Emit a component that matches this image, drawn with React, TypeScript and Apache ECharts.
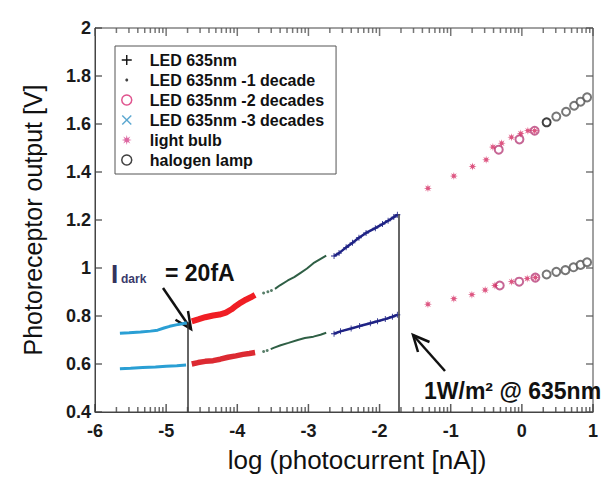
import React, { useEffect, useRef } from "react";
import * as echarts from "echarts";

// ---------- data ----------
// LED 635nm (navy "+")
const ledUpper = [
  [-2.64, 1.05], [-2.57, 1.062], [-2.47, 1.086], [-2.38, 1.105], [-2.29, 1.126],
  [-2.19, 1.146], [-2.06, 1.166], [-1.96, 1.183], [-1.88, 1.197], [-1.8, 1.212], [-1.75, 1.222],
];
const ledLower = [
  [-2.64, 0.726], [-2.55, 0.736], [-2.4, 0.748], [-2.28, 0.758], [-2.13, 0.77],
  [-2.03, 0.778], [-1.92, 0.787], [-1.82, 0.797], [-1.75, 0.805],
];
// LED 635nm -1 decade (green dots)
const dec1UpperSparse = [[-3.63, 0.896], [-3.57, 0.901], [-3.52, 0.906]];
const dec1Upper = [
  [-3.47, 0.913], [-3.4, 0.928], [-3.29, 0.948], [-3.2, 0.962], [-3.11, 0.98],
  [-3.02, 0.998], [-2.93, 1.02], [-2.84, 1.036], [-2.75, 1.052],
];
const dec1LowerSparse = [[-3.63, 0.652], [-3.58, 0.656]];
const dec1Lower = [
  [-3.53, 0.662], [-3.48, 0.668], [-3.39, 0.678], [-3.28, 0.688], [-3.15, 0.7],
  [-3.05, 0.708], [-2.93, 0.714], [-2.83, 0.722], [-2.75, 0.73],
];
// LED 635nm -2 decades (red circles)
const dec2Upper = [
  [-4.64, 0.778], [-4.55, 0.786], [-4.45, 0.795], [-4.34, 0.802], [-4.25, 0.806],
  [-4.16, 0.814], [-4.08, 0.828], [-4.02, 0.842], [-3.95, 0.856], [-3.88, 0.868],
  [-3.81, 0.878], [-3.75, 0.888],
];
const dec2Lower = [
  [-4.64, 0.6], [-4.55, 0.606], [-4.45, 0.611], [-4.34, 0.614], [-4.24, 0.62],
  [-4.13, 0.628], [-4.02, 0.634], [-3.92, 0.64], [-3.83, 0.644], [-3.75, 0.648],
];
const dec2Right = [
  [-0.325, 1.493], [-0.034, 1.536], [0.18, 1.572],
  [-0.311, 0.927], [-0.038, 0.943], [0.19, 0.96],
];
// LED 635nm -3 decades (cyan)
const dec3Upper = [
  [-5.65, 0.728], [-5.52, 0.73], [-5.36, 0.733], [-5.22, 0.737], [-5.12, 0.741],
  [-5.03, 0.75], [-4.95, 0.757], [-4.86, 0.763], [-4.77, 0.768], [-4.71, 0.772],
];
const dec3Lower = [
  [-5.65, 0.58], [-5.5, 0.582], [-5.33, 0.585], [-5.15, 0.588], [-5.0, 0.591],
  [-4.85, 0.593], [-4.72, 0.596],
];
// light bulb (magenta asterisks)
const bulbUpper = [
  [-1.32, 1.332], [-0.956, 1.383], [-0.693, 1.423], [-0.502, 1.451], [-0.407, 1.504],
  [-0.284, 1.52], [-0.147, 1.545], [-0.015, 1.56], [0.085, 1.572], [0.18, 1.572],
];
const bulbLower = [
  [-1.32, 0.849], [-0.956, 0.872], [-0.702, 0.889], [-0.516, 0.908], [-0.379, 0.927],
  [-0.143, 0.943], [0.075, 0.956], [0.19, 0.96],
];
// halogen lamp (open circles)
const halogenUpper = [
  [0.348, 1.607], [0.484, 1.631], [0.621, 1.651], [0.735, 1.676], [0.825, 1.693], [0.917, 1.711],
];
const halogenLower = [
  [0.348, 0.973], [0.484, 0.984], [0.612, 0.991], [0.726, 1.003], [0.825, 1.013], [0.917, 1.024],
];

// reference lines
const darkLine = { x: -4.7, top: 0.775 };
const sunLine = { x: -1.73, top: 1.224 };

// axes
const X_MIN = -6;
const X_MAX = 1;
const Y_MIN = 0.4;
const Y_MAX = 2;
const majorDecades = [-6, -5, -4, -3, -2, -1, 0, 1];
const logMinorOffsets = [0.301, 0.477, 0.602, 0.699, 0.778, 0.845, 0.903, 0.954];
const yTickValues = [0.4, 0.6, 0.8, 1, 1.2, 1.4, 1.6, 1.8, 2];

const NAMES = [
  "LED 635nm",
  "LED 635nm -1 decade",
  "LED 635nm -2 decades",
  "LED 635nm -3 decades",
  "light bulb",
  "halogen lamp",
];

const PLUS = "path://M4.3,0H5.7V4.3H10V5.7H5.7V10H4.3V5.7H0V4.3H4.3Z";
const CROSS = "path://M0,1L1,0L5,4L9,0L10,1L6,5L10,9L9,10L5,6L1,10L0,9L4,5Z";
const STAR =
  "path://M5,0L5.77,3.15L8.54,1.46L6.85,4.23L10,5L6.85,5.77L8.54,8.54L5.77,6.85L5,10L4.23,6.85L1.46,8.54L3.15,5.77L0,5L3.15,4.23L1.46,1.46L4.23,3.15Z";
const DOT =
  "path://M0,0L0.01,0L0,0.01Z M10,10L9.99,10L10,9.99Z M4.4,3.6H5.6L6.4,4.4V5.6L5.6,6.4H4.4L3.6,5.6V4.4Z";

const FONT = "'Liberation Sans', Arial, Helvetica, sans-serif";

export default function App() {
  const ref = useRef<HTMLDivElement>(null);

  useEffect(() => {
    if (!ref.current) return;
    const chart = echarts.init(ref.current, undefined, { renderer: "svg" });

    const minorX: number[] = [];
    majorDecades.forEach((d) => {
      if (d < X_MAX) logMinorOffsets.forEach((o) => minorX.push(d + o));
    });

    const navy = "#1f2385";
    const green = "#2f5f45";
    const cyan = "#2a9fd4";
    const bulb = "#d42a62";
    const circMag = "#b8407a";
    const grey = "#555";

    const lineBase = { type: "line", showSymbol: false, silent: true, emphasis: { disabled: true } };

    // tick marks drawn as small rect symbols placed through the axes' scales
    const tickSeries = (data: number[][], size: number[], offset: number[], color: string) => ({
      type: "scatter", silent: true, clip: false, z: 5,
      symbol: "rect", symbolSize: size, symbolOffset: offset,
      itemStyle: { color }, emphasis: { disabled: true },
      data,
    });

    const option: any = {
      animation: false,
      backgroundColor: "#fff",
      grid: {
        left: 87, right: 13, top: 20, bottom: 64,
        show: true, borderColor: "#444", borderWidth: 1,
      },
      legend: {
        orient: "vertical",
        left: 107,
        top: 38,
        backgroundColor: "#fff",
        borderColor: "#555",
        borderWidth: 1,
        padding: [4, 12, 4, 6],
        itemWidth: 12,
        itemHeight: 10,
        itemGap: 0,
        selectedMode: false,
        textStyle: {
          fontFamily: FONT, fontSize: 16, fontWeight: "bold", color: "#111",
          lineHeight: 20, padding: [0, 0, 0, 12],
        },
        data: [
          { name: NAMES[0], icon: PLUS, itemStyle: { color: "#111", borderWidth: 0 } },
          { name: NAMES[1], icon: DOT, itemStyle: { color: "#111", borderWidth: 0 } },
          { name: NAMES[2], icon: "circle", itemStyle: { color: "#fff", borderColor: "#e0558f", borderWidth: 1.5 } },
          { name: NAMES[3], icon: CROSS, itemStyle: { color: "#5aa7d0", borderWidth: 0 } },
          { name: NAMES[4], icon: STAR, itemStyle: { color: "#d4408a", borderWidth: 0 } },
          { name: NAMES[5], icon: "circle", itemStyle: { color: "#fff", borderColor: "#111", borderWidth: 1.5 } },
        ],
      },
      xAxis: {
        type: "value",
        min: X_MIN, max: X_MAX, interval: 1,
        name: "log (photocurrent [nA])",
        nameLocation: "middle",
        nameGap: 35,
        nameTextStyle: { fontFamily: FONT, fontSize: 26, color: "#111", padding: [0, 0, 0, 26] },
        axisLine: { show: true, onZero: false, lineStyle: { color: "#444", width: 1 } },
        axisTick: { show: false },
        splitLine: { show: false },
        axisLabel: { margin: 10, fontFamily: FONT, fontSize: 18, fontWeight: "bold", color: "#1a1a1a" },
      },
      yAxis: {
        type: "value",
        min: Y_MIN, max: Y_MAX, interval: 0.2,
        name: "Photoreceptor output [V]",
        nameLocation: "middle",
        nameGap: 50,
        nameTextStyle: { fontFamily: FONT, fontSize: 25, color: "#111" },
        axisLine: { show: true, onZero: false, lineStyle: { color: "#444", width: 1 } },
        axisTick: { show: false },
        splitLine: { show: false },
        axisLabel: { margin: 4, fontFamily: FONT, fontSize: 18, fontWeight: "bold", color: "#1a1a1a" },
      },
      series: [
        // x ticks: log-spaced minor + major, bottom and top (pointing inward)
        tickSeries(minorX.map((x) => [x, Y_MIN]), [1.5, 5], [0, -2.5], "#444"),
        tickSeries(minorX.map((x) => [x, Y_MAX]), [1.5, 5], [0, 2.5], "#555"),
        tickSeries(majorDecades.map((x) => [x, Y_MIN]), [1.5, 8], [0, -4], "#333"),
        tickSeries(majorDecades.map((x) => [x, Y_MAX]), [1.5, 8], [0, 4], "#555"),
        // y ticks, left and right (pointing inward)
        tickSeries(yTickValues.map((y) => [X_MIN, y]), [7, 1.5], [3.5, 0], "#444"),
        tickSeries(yTickValues.map((y) => [X_MAX, y]), [7, 1.5], [-3.5, 0], "#555"),
        // -3 decades (cyan) + reference vertical lines
        {
          ...lineBase, name: NAMES[3], data: dec3Upper,
          lineStyle: { color: cyan, width: 3 }, itemStyle: { color: cyan },
          markLine: {
            silent: true, symbol: ["none", "none"], label: { show: false },
            lineStyle: { color: "#333", width: 1.5, type: "solid" },
            emphasis: { disabled: true },
            data: [
              [{ coord: [darkLine.x, Y_MIN] }, { coord: [darkLine.x, darkLine.top] }],
              [{ coord: [sunLine.x, Y_MIN] }, { coord: [sunLine.x, sunLine.top] }],
            ],
          },
        },
        { ...lineBase, name: NAMES[3], data: dec3Lower, lineStyle: { color: cyan, width: 3 }, itemStyle: { color: cyan } },
        // -2 decades (red)
        { ...lineBase, name: NAMES[2], data: dec2Upper, lineStyle: { color: "#f01e24", width: 6 }, itemStyle: { color: "#f01e24" } },
        { ...lineBase, name: NAMES[2], data: dec2Lower, lineStyle: { color: "#dc2a32", width: 5.5 }, itemStyle: { color: "#dc2a32" } },
        {
          type: "scatter", name: NAMES[2], data: dec2Right, symbol: "emptyCircle", symbolSize: 8, silent: true,
          itemStyle: { color: circMag, borderWidth: 1.5 },
        },
        // -1 decade (green)
        { type: "scatter", name: NAMES[1], data: dec1UpperSparse, symbolSize: 3, silent: true, itemStyle: { color: green } },
        { ...lineBase, name: NAMES[1], data: dec1Upper, lineStyle: { color: green, width: 2 }, itemStyle: { color: green } },
        { type: "scatter", name: NAMES[1], data: dec1LowerSparse, symbolSize: 3, silent: true, itemStyle: { color: green } },
        { ...lineBase, name: NAMES[1], data: dec1Lower, lineStyle: { color: green, width: 2 }, itemStyle: { color: green } },
        // LED 635nm (navy)
        {
          ...lineBase, name: NAMES[0], data: ledUpper, showSymbol: true, symbol: PLUS, symbolSize: 6,
          lineStyle: { color: navy, width: 2.5 }, itemStyle: { color: navy },
        },
        {
          ...lineBase, name: NAMES[0], data: ledLower, showSymbol: true, symbol: PLUS, symbolSize: 6,
          lineStyle: { color: navy, width: 2.5 }, itemStyle: { color: navy },
        },
        // light bulb
        { type: "scatter", name: NAMES[4], data: bulbUpper, symbol: STAR, symbolSize: 8, silent: true, itemStyle: { color: bulb } },
        { type: "scatter", name: NAMES[4], data: bulbLower, symbol: STAR, symbolSize: 8, silent: true, itemStyle: { color: bulb } },
        // halogen lamp
        {
          type: "scatter", name: NAMES[5], symbol: "emptyCircle", symbolSize: 8, silent: true,
          itemStyle: { color: grey, borderWidth: 1.5 },
          data: halogenUpper.map((p, i) => (i === 0 ? { value: p, itemStyle: { color: "#111" } } : p)),
        },
        {
          type: "scatter", name: NAMES[5], symbol: "emptyCircle", symbolSize: 8, silent: true,
          itemStyle: { color: grey, borderWidth: 1.5 }, data: halogenLower,
        },
      ],
      graphic: [
        // I_dark annotation
        { type: "text", left: 103, top: 253, style: { text: "I", font: `bold 26px ${FONT}`, fill: "#33335c" } },
        { type: "text", left: 113, top: 265, style: { text: "dark", font: `bold 12px ${FONT}`, fill: "#3a3a6a" } },
        { type: "text", left: 157, top: 253, style: { text: "= 20fA", font: `bold 23px ${FONT}`, fill: "#111" } },
        { type: "polyline", shape: { points: [[155, 280], [183, 321]] }, style: { stroke: "#111", lineWidth: 2.5, fill: null } },
        { type: "polyline", shape: { points: [[167.5, 311.8], [183, 321], [180, 303]] }, style: { stroke: "#111", lineWidth: 2.5, fill: null } },
        // 1W/m² annotation
        { type: "text", left: 416, top: 371, style: { text: "1W/m² @ 635nm", font: `bold 23px ${FONT}`, fill: "#111" } },
        { type: "polyline", shape: { points: [[437, 363], [405, 327]] }, style: { stroke: "#111", lineWidth: 2.5, fill: null } },
        { type: "polyline", shape: { points: [[410, 344], [405, 327], [421.5, 334]] }, style: { stroke: "#111", lineWidth: 2.5, fill: null } },
      ],
    };

    chart.setOption(option);
    return () => chart.dispose();
  }, []);

  return <div ref={ref} style={{ width: 598, height: 470 }} />;
}
